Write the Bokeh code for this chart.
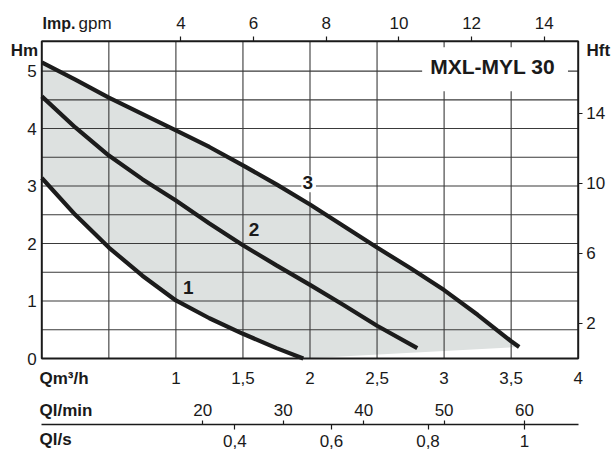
from bokeh.plotting import figure
from bokeh.models import (LinearAxis, Range1d, FixedTicker, Label,
                          CustomJSTickFormatter)
from bokeh.embed import file_html
from bokeh.resources import INLINE

# ---- data (Q in m3/h, H in m) ----
curve1_q = [0.0, 0.25, 0.5, 0.75, 1.0, 1.25, 1.5, 1.75, 1.95]
curve1_h = [3.14, 2.50, 1.93, 1.44, 1.01, 0.70, 0.43, 0.18, 0.0]
curve2_q = [0.0, 0.25, 0.5, 0.75, 1.0, 1.25, 1.5, 1.75, 2.0, 2.25, 2.5, 2.80]
curve2_h = [4.56, 4.02, 3.53, 3.12, 2.75, 2.35, 1.97, 1.62, 1.28, 0.93, 0.57, 0.18]
curve3_q = [0.0, 0.25, 0.5, 1.0, 1.25, 1.5, 1.75, 2.0, 2.5, 2.75, 3.0, 3.25, 3.5, 3.56]
curve3_h = [5.15, 4.85, 4.54, 3.97, 3.68, 3.36, 3.03, 2.68, 1.93, 1.57, 1.19, 0.76, 0.30, 0.20]
curve_names = ["1", "2", "3"]
curve_label_q = [1.10, 1.59, 1.99]
curve_label_h = [1.21, 2.23, 3.04]

title = "MXL-MYL 30"
q_ticks = [1, 1.5, 2, 2.5, 3, 3.5, 4]
hm_ticks = [0, 1, 2, 3, 4, 5]
hft_ticks = [2, 6, 10, 14]
gpm_ticks = [4, 6, 8, 10, 12, 14]
lmin_ticks = [20, 30, 40, 50, 60]
ls_ticks = [0.4, 0.6, 0.8, 1.0]
grid_q = [0.5, 1, 1.5, 2, 2.5, 3, 3.5]
grid_h = [0.5, 1, 1.5, 2, 2.5, 3, 3.5, 4, 4.5, 5]

Q_MAX = 4.0
H_MAX = 5.52
M_PER_FT = 0.3048
M3H_PER_LMIN = 0.06
M3H_PER_LS = 3.6
GPM_M3H, GPM_SHIFT = 0.271, -0.047   # Imp. gpm scale as printed on the chart

# ---- page layout (pixels) ----
W, H = 614, 450
LEFT_PX, RIGHT_PX, TOP_PX, BOTTOM_PX = 41.3, 577.7, 40.7, 358.0
FLOW_LINE_PX = 424.0
sx = (RIGHT_PX - LEFT_PX) / Q_MAX
sy = (BOTTOM_PX - TOP_PX) / H_MAX
x0, x1 = -LEFT_PX / sx, Q_MAX + (W - RIGHT_PX) / sx
y0, y1 = -(H - BOTTOM_PX) / sy, H_MAX + TOP_PX / sy
flow_line_y = -(FLOW_LINE_PX - BOTTOM_PX) / sy

INK = "#1a1a1a"
FONT = "Liberation Sans"

p = figure(width=W, height=H, min_border=0,
           x_range=Range1d(x0, x1), y_range=Range1d(y0, y1),
           x_axis_type=None, y_axis_type=None,
           output_backend="svg", toolbar_location=None)
p.outline_line_color = None
p.background_fill_color = "white"
p.border_fill_color = "white"

p.extra_y_ranges = {"hft": Range1d(y0 / M_PER_FT, y1 / M_PER_FT)}
p.extra_x_ranges = {"gpm": Range1d((x0 - GPM_SHIFT) / GPM_M3H, (x1 - GPM_SHIFT) / GPM_M3H),
                    "lmin": Range1d(x0 / M3H_PER_LMIN, x1 / M3H_PER_LMIN),
                    "ls": Range1d(x0 / M3H_PER_LS, x1 / M3H_PER_LS)}

# shaded operating field
shade_x = curve3_q + curve1_q[::-1]
shade_y = curve3_h + curve1_h[::-1]
patch = p.patch(shade_x, shade_y, fill_color="#dde1e0", line_color=None)
patch.level = "image"

# grid lines inside the chart box
gv = p.segment(x0=grid_q, x1=grid_q, y0=[0] * len(grid_q), y1=[H_MAX] * len(grid_q),
               line_color="#3a3a3a", line_width=1.1)
gh = p.segment(x0=[0] * len(grid_h), x1=[Q_MAX] * len(grid_h), y0=grid_h, y1=grid_h,
               line_color="#3a3a3a", line_width=1.1)
gv.level = "underlay"
gh.level = "underlay"

for qs, hs in [(curve1_q, curve1_h), (curve2_q, curve2_h), (curve3_q, curve3_h)]:
    p.line(qs, hs, line_color="#1c1c1c", line_width=4.2)

# chart box
p.quad(left=[0], right=[Q_MAX], bottom=[0], top=[H_MAX], fill_color=None,
       line_color=INK, line_width=2)

comma = CustomJSTickFormatter(code="return String(tick).replace('.', ',');")

def axis(side, ticks, loc, tick_out, standoff, fmt=None, **kw):
    ax = LinearAxis(ticker=FixedTicker(ticks=ticks), fixed_location=loc, **kw)
    if fmt is not None:
        ax.formatter = fmt
    ax.axis_line_color = None
    ax.major_tick_line_color = INK
    ax.major_tick_line_width = 1.2
    ax.minor_tick_line_color = None
    ax.major_tick_out = tick_out
    ax.major_tick_in = 0
    ax.major_label_standoff = standoff
    ax.major_label_text_font = FONT
    ax.major_label_text_font_size = "17px"
    ax.major_label_text_color = INK
    p.add_layout(ax, side)
    return ax

axis("left", hm_ticks, 0, 0, 5)
axis("right", hft_ticks, Q_MAX, 4, 4, y_range_name="hft")
axis("above", gpm_ticks, H_MAX, 5, 7, x_range_name="gpm")
axis("below", q_ticks, 0, 0, 13, fmt=comma)
axis("above", lmin_ticks, flow_line_y, 4, 5, x_range_name="lmin")
ax_s = axis("below", ls_ticks, flow_line_y, 5, 5, fmt=comma, x_range_name="ls",
            bounds=(0, Q_MAX / M3H_PER_LS))
ax_s.axis_line_color = INK
ax_s.axis_line_width = 1.5

def lab(text, x, y, size="17px", bold=True, align="left"):
    p.add_layout(Label(x=x, y=y, x_units="canvas", y_units="canvas", text=text,
                       text_font=FONT, text_font_size=size,
                       text_font_style="bold" if bold else "normal", text_color=INK,
                       text_align=align, text_baseline="middle"))

lab("Hm", 24, 50, align="center")
lab("Hft", 586, 50)
lab("Imp.", 42, 23, size="16px")
lab("gpm", 78, 23, bold=False)
lab("Qm³/h", 39, 378)
lab("Ql/min", 39, 410)
lab("Ql/s", 39, 439)

# curve numbers
for name, q, h in zip(curve_names, curve_label_q, curve_label_h):
    p.add_layout(Label(x=q, y=h, text=name, text_font=FONT, text_font_size="19px",
                       text_font_style="bold", text_color=INK, text_align="center",
                       text_baseline="middle",
                       background_fill_color="white" if name == "3" else None,
                       padding=(1, 3, 1, 3)))

# title
p.add_layout(Label(x=3.38, y=5.03, text=title,
                   text_font=FONT, text_font_size="21px",
                   text_font_style="bold", text_color=INK, text_align="center",
                   text_baseline="middle", background_fill_color="white",
                   padding=(8, 13, 8, 13)))

open("out.html", "w").write(file_html(p, INLINE))
